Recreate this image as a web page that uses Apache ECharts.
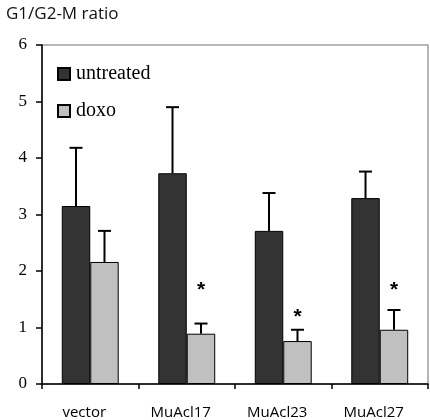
<!DOCTYPE html>
<html>
<head>
<meta charset="utf-8">
<script src="https://cdn.jsdelivr.net/npm/echarts@6/dist/echarts.min.js"></script>
<style>html,body{margin:0;padding:0;background:#fff}#c{width:430px;height:420px}</style>
</head>
<body>
<div id="c"></div>
<script>
var categories = ['vector', 'MuAcl17', 'MuAcl23', 'MuAcl27'];
var untreated = [3.15, 3.73, 2.71, 3.29];
var untreatedErr = [1.03, 1.17, 0.67, 0.47];
var doxo = [2.16, 0.89, 0.76, 0.96];
var doxoErr = [0.55, 0.18, 0.20, 0.35];
var starPos = [null, 1.66, 1.19, 1.66];
var yMin = 0, yMax = 6, yStep = 1;

var GAP = 0.41;
function barOffset(api, side) {
  var bw = api.size([1, 0])[0];
  var w = bw * (1 - GAP) / 2;
  return { off: side * w / 2, w: w };
}
function errRender(vals, errs, side) {
  return function (params, api) {
    var i = api.value(0);
    var o = barOffset(api, side);
    var base = api.coord([i, vals[i]]);
    var top = api.coord([i, vals[i] + errs[i]]);
    var x = base[0] + o.off;
    var cap = 6.5;
    return {
      type: 'group',
      children: [
        { type: 'line', shape: { x1: x, y1: base[1], x2: x, y2: top[1] }, style: { stroke: '#000', lineWidth: 2 } },
        { type: 'line', shape: { x1: x - cap, y1: top[1], x2: x + cap, y2: top[1] }, style: { stroke: '#000', lineWidth: 2 } }
      ]
    };
  };
}
function idxData(n) { var a = []; for (var i = 0; i < n; i++) a.push([i, 0]); return a; }
var starData = [];
starPos.forEach(function (v, i) { if (v != null) starData.push([i, v]); });

var chart = echarts.init(document.getElementById('c'));
chart.setOption({
  animation: false,
  title: {
    text: 'G1/G2-M ratio', left: 1, top: 1,
    textStyle: { fontFamily: 'Open Sans', fontSize: 17, fontWeight: 'normal', color: '#111' }
  },
  legend: {
    orient: 'vertical', left: 57, top: 64, padding: 0, itemWidth: 12, itemHeight: 12, itemGap: 17,
    icon: 'rect',
    data: ['untreated', 'doxo'],
    textStyle: { fontFamily: 'Liberation Serif', fontSize: 20, color: '#000', padding: [0, 0, 0, 1] }
  },
  grid: { left: 42, right: 2, top: 45, bottom: 36, show: true, borderColor: '#a0a0a0', borderWidth: 1.5, containLabel: false },
  xAxis: {
    type: 'category', data: categories,
    axisLine: { lineStyle: { color: '#000', width: 1.5 } },
    axisTick: { show: true, length: 5, lineStyle: { color: '#000', width: 1.5 }, alignWithLabel: false },
    axisLabel: { fontFamily: 'Open Sans', fontSize: 15, color: '#000', margin: 21, padding: [0, 12, 0, 0] }
  },
  yAxis: {
    type: 'value', min: yMin, max: yMax, interval: yStep,
    axisLine: { show: true, lineStyle: { color: '#000', width: 1.5 } },
    axisTick: { show: true, length: 6, lineStyle: { color: '#000', width: 1.5 } },
    splitLine: { show: false },
    axisLabel: { fontFamily: 'Liberation Serif', fontSize: 17, color: '#000', margin: 15 }
  },
  series: [
    {
      name: 'untreated', type: 'bar', data: untreated, barGap: '0%', barCategoryGap: (GAP * 100) + '%',
      itemStyle: { color: '#333333', borderColor: '#000', borderWidth: 1 }
    },
    {
      name: 'doxo', type: 'bar', data: doxo, barGap: '0%', barCategoryGap: (GAP * 100) + '%',
      itemStyle: { color: '#c0c0c0', borderColor: '#000', borderWidth: 1 }
    },
    { type: 'custom', renderItem: errRender(untreated, untreatedErr, -1), data: idxData(categories.length), z: 3, silent: true },
    { type: 'custom', renderItem: errRender(doxo, doxoErr, 1), data: idxData(categories.length), z: 3, silent: true },
    {
      type: 'custom', data: starData, z: 4, silent: true,
      renderItem: function (params, api) {
        var i = api.value(0);
        var p = api.coord([i, api.value(1)]);
        var o = barOffset(api, 1);
        return { type: 'text', x: p[0] + o.off, y: p[1], style: { text: '*', fontFamily: 'Liberation Sans', fontSize: 21, fontWeight: 'bold', fill: '#000', align: 'center', verticalAlign: 'middle' } };
      }
    }
  ]
});
</script>
</body>
</html>
